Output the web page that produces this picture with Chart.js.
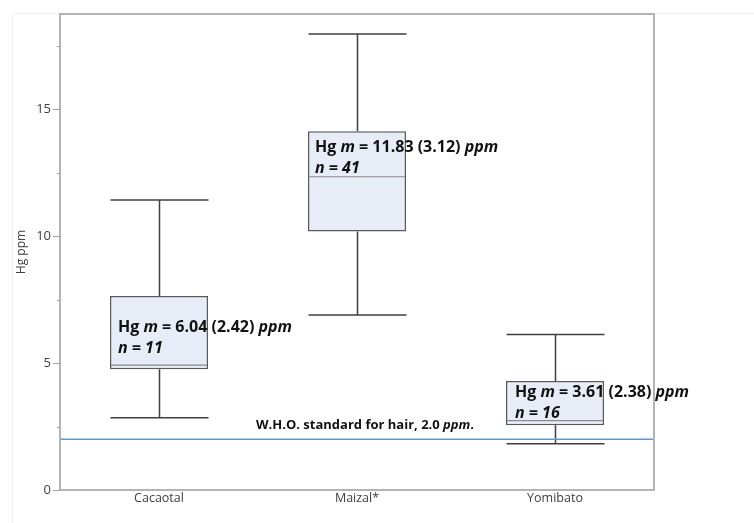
<!DOCTYPE html>
<html>
<head>
<meta charset="utf-8">
<script src="https://cdn.jsdelivr.net/npm/chart.js@4/dist/chart.umd.min.js"></script>
<style>
  html, body { margin: 0; padding: 0; background: #ffffff; }
  #wrap { width: 754px; height: 523px; position: relative; }
</style>
</head>
<body>
<div id="wrap"><canvas id="c" width="754" height="523"></canvas></div>
<script>
// Hair mercury (Hg ppm) by community: box-and-whisker summaries
const communities = ['Cacaotal', 'Maizal*', 'Yomibato'];
const whiskerLow  = [2.85, 6.89, 1.82];
const quartile1   = [4.76, 10.18, 2.55];
const medians     = [4.92, 12.34, 2.73];
const quartile3   = [7.64, 14.13, 4.29];
const whiskerHigh = [11.42, 17.96, 6.13];
const meanHg      = ['6.04', '11.83', '3.61'];
const sdHg        = ['2.42', '3.12', '2.38'];
const sampleSize  = [11, 41, 16];
const whoStandard = 2.0;
const yTicks      = [0, 2.5, 5, 7.5, 10, 12.5, 15, 17.5];

// label offsets (px) from the box's upper-left corner
const labelOffsets = [{dx: 8, dy: 36}, {dx: 7, dy: 21}, {dx: 9, dy: 16}];

const AXIS_FONT = "'Open Sans', 'DejaVu Sans', sans-serif";
const NOTE_FONT = "'Open Sans', 'DejaVu Sans', sans-serif";
const INK = '#404040';

function drawRich(ctx, x, y, parts, size) {
  let cx = x;
  for (const p of parts) {
    ctx.font = (p.italic ? 'italic ' : '') + 'bold ' + size + 'px ' + NOTE_FONT;
    ctx.fillText(p.t, cx, y);
    cx += ctx.measureText(p.t).width;
  }
}

const boxPlotPlugin = {
  id: 'boxPlot',
  beforeDatasetsDraw(chart) {
    const {ctx, scales: {x, y}} = chart;
    ctx.save();
    // faint page frame
    ctx.strokeStyle = '#f2f2f2';
    ctx.lineWidth = 1;
    ctx.beginPath();
    ctx.moveTo(12.5, 523); ctx.lineTo(12.5, 13.5); ctx.lineTo(754, 13.5);
    ctx.stroke();
    // whisker stems and caps
    const meta = chart.getDatasetMeta(0);
    ctx.strokeStyle = '#3f3f3f';
    ctx.lineWidth = 1.5;
    communities.forEach((c, i) => {
      const bar = meta.data[i];
      const cx = Math.round(x.getPixelForValue(i)) + 0.5;
      const half = bar.width / 2;
      const yLo = y.getPixelForValue(whiskerLow[i]);
      const yHi = y.getPixelForValue(whiskerHigh[i]);
      const yQ1 = y.getPixelForValue(quartile1[i]);
      const yQ3 = y.getPixelForValue(quartile3[i]);
      ctx.beginPath();
      ctx.moveTo(cx, yHi); ctx.lineTo(cx, yQ3);
      ctx.moveTo(cx, yQ1); ctx.lineTo(cx, yLo);
      ctx.moveTo(cx - half, yHi); ctx.lineTo(cx + half, yHi);
      ctx.moveTo(cx - half, yLo); ctx.lineTo(cx + half, yLo);
      ctx.stroke();
    });
    ctx.restore();
  },
  afterDatasetsDraw(chart) {
    const {ctx, chartArea: a, scales: {y}} = chart;
    const meta = chart.getDatasetMeta(0);
    ctx.save();
    // medians
    ctx.strokeStyle = '#8a8a8a';
    ctx.lineWidth = 1.2;
    communities.forEach((c, i) => {
      const bar = meta.data[i];
      const half = bar.width / 2;
      const ym = y.getPixelForValue(medians[i]);
      ctx.beginPath();
      ctx.moveTo(bar.x - half + 1, ym); ctx.lineTo(bar.x + half - 1, ym);
      ctx.stroke();
    });
    // W.H.O. reference line
    const yw = y.getPixelForValue(whoStandard);
    ctx.strokeStyle = '#5b9bd5';
    ctx.lineWidth = 1.5;
    ctx.beginPath();
    ctx.moveTo(a.left, yw); ctx.lineTo(a.right, yw);
    ctx.stroke();
    ctx.fillStyle = '#111111';
    ctx.textBaseline = 'alphabetic';
    drawRich(ctx, 256, yw - 10.5, [
      {t: 'W.H.O. standard for hair, ' + whoStandard.toFixed(1) + ' '},
      {t: 'ppm', italic: true}, {t: '.'}
    ], 13);
    // mean (SD) and n annotations
    communities.forEach((c, i) => {
      const bar = meta.data[i];
      const left = bar.x - bar.width / 2;
      const top = y.getPixelForValue(quartile3[i]);
      const o = labelOffsets[i];
      drawRich(ctx, left + o.dx, top + o.dy, [
        {t: 'Hg '}, {t: 'm', italic: true},
        {t: ' = ' + meanHg[i] + ' (' + sdHg[i] + ') '},
        {t: 'ppm', italic: true}
      ], 16);
      drawRich(ctx, left + o.dx, top + o.dy + 21, [
        {t: 'n = ' + sampleSize[i], italic: true}
      ], 16);
    });
    // plot frame
    ctx.strokeStyle = '#b4b4b4';
    ctx.lineWidth = 2;
    ctx.strokeRect(a.left, a.top, a.right - a.left, a.bottom - a.top);
    // y ticks: long at labelled values, short between
    ctx.lineWidth = 1;
    ctx.strokeStyle = '#a0a0a0';
    yTicks.forEach(v => {
      const py = Math.round(y.getPixelForValue(v)) + 0.5;
      const len = v % 5 === 0 ? 7 : 3;
      ctx.beginPath();
      ctx.moveTo(a.left - len, py); ctx.lineTo(a.left, py);
      ctx.stroke();
    });
    ctx.restore();
  }
};

new Chart(document.getElementById('c'), {
  type: 'bar',
  data: {
    labels: communities,
    datasets: [{
      data: communities.map((c, i) => [quartile1[i], quartile3[i]]),
      backgroundColor: '#e8ecf7',
      borderColor: '#5a5a5a',
      borderWidth: 1.5,
      borderSkipped: false,
      barPercentage: 0.495,
      categoryPercentage: 1.0
    }]
  },
  options: {
    responsive: false,
    animation: false,
    devicePixelRatio: 1,
    layout: { padding: { left: 14, right: 100, top: 14, bottom: 0 } },
    plugins: { legend: { display: false }, tooltip: { enabled: false } },
    scales: {
      x: {
        grid: { display: false, drawTicks: false, tickLength: 0 },
        border: { display: false },
        ticks: { color: INK, font: { family: AXIS_FONT, size: 12.5 }, padding: 1 },
        afterFit: s => { s.height = 33; s.paddingLeft = 0; s.paddingRight = 0; }
      },
      y: {
        min: 0,
        max: 18.75,
        afterBuildTicks: s => { s.ticks = yTicks.map(v => ({value: v})); },
        grid: { display: false, drawTicks: false, tickLength: 0 },
        border: { display: false },
        ticks: {
          color: INK,
          font: { family: AXIS_FONT, size: 13 },
          padding: 9,
          callback: v => (v % 5 === 0 ? String(v) : '')
        },
        title: {
          display: true,
          text: 'Hg ppm',
          color: INK,
          font: { family: AXIS_FONT, size: 12 },
          padding: 0
        },
        afterFit: s => { s.width = 46; s.paddingTop = 0; s.paddingBottom = 0; }
      }
    }
  },
  plugins: [boxPlotPlugin]
});
</script>
</body>
</html>
